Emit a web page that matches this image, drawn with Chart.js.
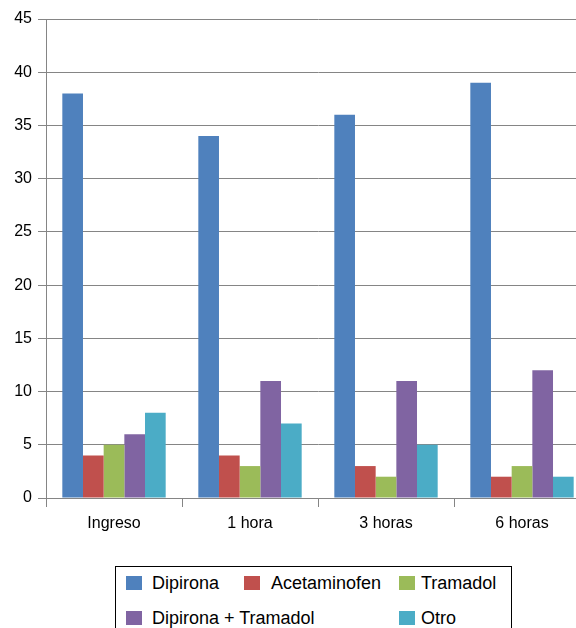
<!DOCTYPE html>
<html>
<head>
<meta charset="utf-8">
<script src="https://cdn.jsdelivr.net/npm/chart.js@4/dist/chart.umd.min.js"></script>
<style>
  html, body { margin: 0; padding: 0; width: 576px; height: 628px; overflow: hidden; background: #fff; }
  #wrap { position: absolute; left: 0; top: 0; width: 600px; height: 540px; }
  #legend {
    position: absolute; left: 115px; top: 566px; width: 397px; height: 80px;
    border: 1px solid #000; box-sizing: border-box;
    font-family: "Liberation Sans", Arial, sans-serif; font-size: 18px; color: #000;
  }
  .item { position: absolute; height: 20px; line-height: 20px; white-space: nowrap; }
  .sw { position: absolute; left: 0; top: 3px; width: 16px; height: 14px; }
  .lbl { position: absolute; top: 0; }
</style>
</head>
<body>
<div id="wrap"><canvas id="c" width="600" height="540"></canvas></div>
<div id="legend"></div>
<script>
const categories = ['Ingreso', '1 hora', '3 horas', '6 horas'];
const seriesNames = ['Dipirona', 'Acetaminofen', 'Tramadol', 'Dipirona + Tramadol', 'Otro'];
const dipirona = [38, 34, 36, 39];
const acetaminofen = [4, 4, 3, 2];
const tramadol = [5, 3, 2, 3];
const dipironaTramadol = [6, 11, 11, 12];
const otro = [8, 7, 5, 2];
const colors = ['#4f81bd', '#c0504d', '#9bbb59', '#8064a2', '#4bacc6'];
const seriesValues = [dipirona, acetaminofen, tramadol, dipironaTramadol, otro];

const FONT = '"Liberation Sans", Arial, sans-serif';

new Chart(document.getElementById('c'), {
  type: 'bar',
  data: {
    labels: categories,
    datasets: seriesNames.map((name, i) => ({
      label: name,
      data: seriesValues[i],
      backgroundColor: colors[i],
      borderWidth: 0,
      categoryPercentage: 0.76,
      barPercentage: 1.0
    }))
  },
  options: {
    responsive: false,
    animation: false,
    layout: { padding: { top: 19, right: 10, left: 0, bottom: 0 } },
    plugins: { legend: { display: false }, tooltip: { enabled: false } },
    scales: {
      x: {
        grid: { offset: true, drawOnChartArea: false, color: '#858585', tickLength: 9, lineWidth: 1 },
        border: { display: true, color: '#858585', width: 1 },
        ticks: { color: '#000', font: { family: FONT, size: 16 }, padding: 7 },
        afterFit: s => { s.height = 42; }
      },
      y: {
        min: 0, max: 45,
        ticks: { stepSize: 5, color: '#000', font: { family: FONT, size: 16 }, padding: 6 },
        grid: { color: '#858585', tickLength: 8, lineWidth: 1 },
        border: { display: true, color: '#858585', width: 1 },
        afterFit: s => { s.width = 46; }
      }
    }
  }
});

// Legend laid out in a two-row grid under the chart: [left, top, label offset]
const legendPos = [
  [10, 6, 26], [128, 6, 27], [283, 6, 22],
  [10, 41, 26], [283, 41, 22]
];
const legend = document.getElementById('legend');
seriesNames.forEach((name, i) => {
  const it = document.createElement('div');
  it.className = 'item';
  it.style.left = legendPos[i][0] + 'px';
  it.style.top = legendPos[i][1] + 'px';
  it.innerHTML = '<span class="sw" style="background:' + colors[i] + '"></span><span class="lbl"></span>';
  const lbl = it.querySelector('.lbl');
  lbl.style.left = legendPos[i][2] + 'px';
  lbl.textContent = name;
  legend.appendChild(it);
});
</script>
</body>
</html>
